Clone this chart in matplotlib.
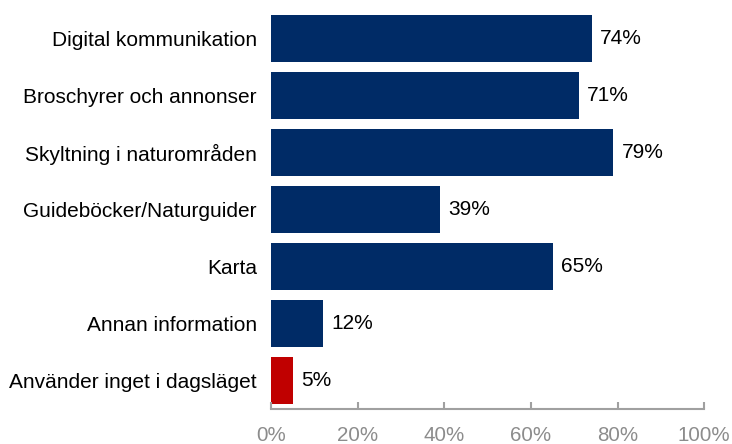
import matplotlib.pyplot as plt

categories = ["Digital kommunikation", "Broschyrer och annonser", "Skyltning i naturområden",
              "Guideböcker/Naturguider", "Karta", "Annan information",
              "Använder inget i dagsläget"]
values = [74, 71, 79, 39, 65, 12, 5]
colors = ["#002B66"] * 6 + ["#C00000"]
xticks = [0, 20, 40, 60, 80, 100]

plt.rcParams['font.family'] = ['Liberation Sans', 'DejaVu Sans']

fig = plt.figure(figsize=(7.32, 4.44), dpi=100)
ax = fig.add_axes([0.370, 0.079, 0.592, 0.898])

pos = range(len(categories))
ax.barh(pos, values, height=0.82, color=colors)
for p, v in zip(pos, values):
    ax.text(v + 2.0, p, f"{v}%", va='center', ha='left', fontsize=15, color='black')

ax.set_ylim(6.5, -0.5)
ax.set_xlim(0, 100)
ax.set_yticks(list(pos))
ax.set_yticklabels(categories, fontsize=15)
ax.set_xticks(xticks)
ax.set_xticklabels([f"{t}%" for t in xticks], fontsize=14.8, color='#8C8C8C')
ax.tick_params(axis='y', length=0, pad=10)
ax.tick_params(axis='x', direction='in', length=5, width=1.5, color='#A0A0A0', pad=12)
for s in ['top', 'right', 'left']:
    ax.spines[s].set_visible(False)
ax.spines['bottom'].set_color('#A0A0A0')
ax.spines['bottom'].set_linewidth(1.5)

fig.savefig('out.png', dpi=100)
